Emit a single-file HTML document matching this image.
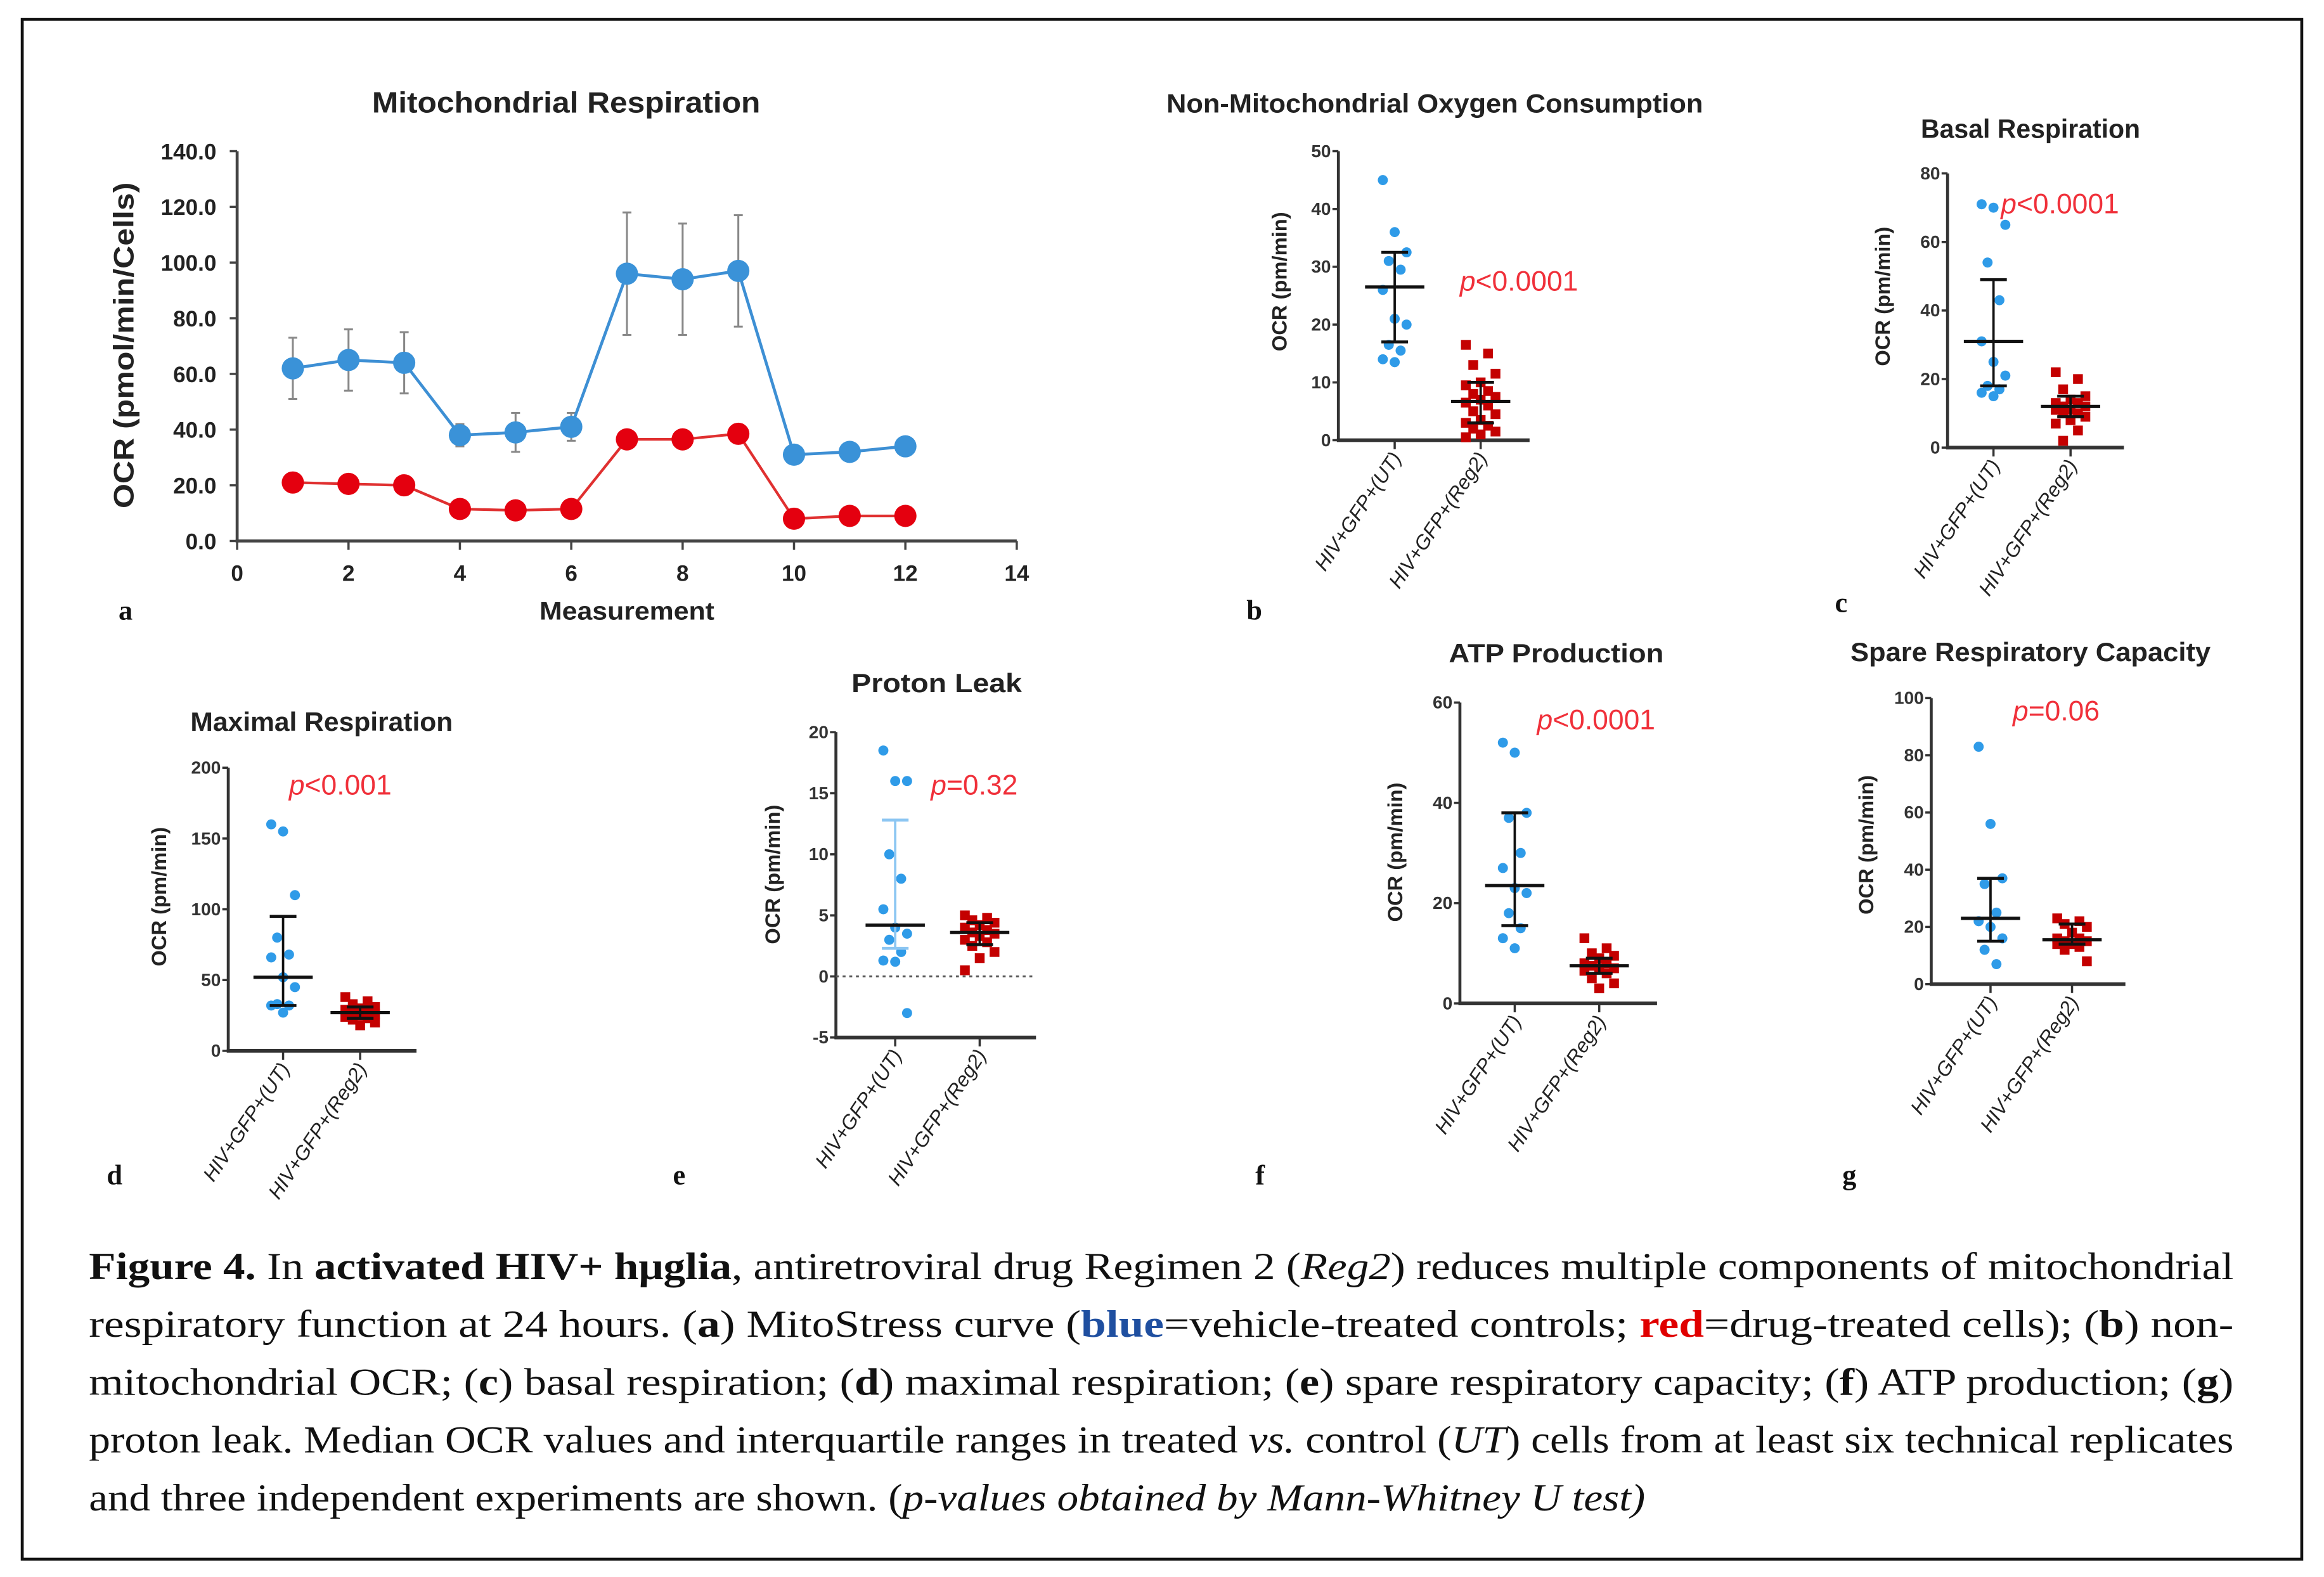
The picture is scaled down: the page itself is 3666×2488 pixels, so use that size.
<!DOCTYPE html>
<html><head><meta charset="utf-8">
<style>
html,body{margin:0;padding:0;background:#fff;}
svg{display:block;}
text{font-family:"Liberation Sans",sans-serif;}
.cap{font-family:"Liberation Serif",serif;font-size:26px;fill:#111;}
.serif{font-family:"Liberation Serif",serif;}
</style></head>
<body>
<svg id="fig" width="3666" height="2488" viewBox="0 0 1568 1064" preserveAspectRatio="none" xmlns="http://www.w3.org/2000/svg">
<rect x="15" y="13" width="1538" height="1039" fill="#fff" stroke="#111" stroke-width="2"/>
<g id="plots"></g>
<g>
<text class="cap" x="60" y="863" textLength="1447" lengthAdjust="spacingAndGlyphs"><tspan font-weight="bold">Figure 4.</tspan> In <tspan font-weight="bold">activated HIV+ hμglia</tspan>, antiretroviral drug Regimen 2 (<tspan font-style="italic">Reg2</tspan>) reduces multiple components of mitochondrial</text>
<text class="cap" x="60" y="902" textLength="1447" lengthAdjust="spacingAndGlyphs">respiratory function at 24 hours. (<tspan font-weight="bold">a</tspan>) MitoStress curve (<tspan font-weight="bold" fill="#1f4fa0">blue</tspan>=vehicle-treated controls; <tspan font-weight="bold" fill="#e00000">red</tspan>=drug-treated cells); (<tspan font-weight="bold">b</tspan>) non-</text>
<text class="cap" x="60" y="941" textLength="1447" lengthAdjust="spacingAndGlyphs">mitochondrial OCR; (<tspan font-weight="bold">c</tspan>) basal respiration; (<tspan font-weight="bold">d</tspan>) maximal respiration; (<tspan font-weight="bold">e</tspan>) spare respiratory capacity; (<tspan font-weight="bold">f</tspan>) ATP production; (<tspan font-weight="bold">g</tspan>)</text>
<text class="cap" x="60" y="980" textLength="1447" lengthAdjust="spacingAndGlyphs">proton leak. Median OCR values and interquartile ranges in treated <tspan font-style="italic">vs.</tspan> control (<tspan font-style="italic">UT</tspan>) cells from at least six technical replicates</text>
<text class="cap" x="60" y="1019" textLength="1050" lengthAdjust="spacingAndGlyphs">and three independent experiments are shown. (<tspan font-style="italic">p-values obtained by Mann-Whitney U test)</tspan></text>
</g>
</svg>
<script>
// ---- Panel a data ----
const aMeasurements = [1,2,3,4,5,6,7,8,9,10,11,12];
const aBlue = [62,65,64,38,39,41,96,94,97,31,32,34];
const aBlueErr = [11,11,11,4,7,5,22,20,20,2,2,2];
const aRed = [21,20.5,20,11.5,11,11.5,36.5,36.5,38.5,8,9,9];
const aYTicks = [0,20,40,60,80,100,120,140];
const aXTicks = [0,2,4,6,8,10,12,14];

// ---- scatter panel data ----
const bUT = [45,36,32.5,31,29.5,26,21,20,16.5,15.5,14,13.5];
const bReg = [16.5,15,13,11.5,10,9.5,8.5,8,7.5,7,6.5,6,5,4.5,3.5,3,2.5,2,1.5,1,0.5];
const bStats = [26.5,17,32.5, 6.7,3,10];
const bTicks = [0,10,20,30,40,50];
const cUT = [71,70,65,54,43,31,25,21,18,17,16,15];
const cReg = [22,20,17,15,14,13,13,12,12,11,11,10,10,9,8,7,5,2];
const cStats = [31,18,49, 12,9,15];
const cTicks = [0,20,40,60,80];
const dUT = [160,155,110,80,68,66,52,45,33,32,32,27];
const dReg = [38,35,33,31,30,29,28,27,26,25,24,23,22,20,18];
const dStats = [52,32,95, 27,23,31];
const dTicks = [0,50,100,150,200];
const eUT = [18.5,16,16,10,8,5.5,4,3.5,3,2,1.3,1.2,-3];
const eReg = [5,4.8,4.6,4.4,4.2,4,3.8,3.6,3.5,3.3,3,2.8,2.5,2,1.5,0.5];
const eStats = [4.2,2.3,12.8, 3.6,2.6,4.4];
const eTicks = [-5,0,5,10,15,20];
const fUT = [52,50,38,37,30,27,23,22,18,15,13,11];
const fReg = [13,11,10,9.5,9,8,8,7.5,7,7,6.5,6,5,4,3];
const fStats = [23.5,15.5,38, 7.5,6,9];
const fTicks = [0,20,40,60];
const gUT = [83,56,37,35,25,22,20,16,12,7];
const gReg = [23,22,21,20,18,16,16,15,15,14,14,13,12,8];
const gStats = [23,15,37, 15.5,14,21];
const gTicks = [0,20,40,60,80,100];
const categories = ["HIV+GFP+(UT)","HIV+GFP+(Reg2)"];

const NS="http://www.w3.org/2000/svg";
const root=document.getElementById('plots');
function mk(tag,attrs,parent,txt){const e=document.createElementNS(NS,tag);for(const k in attrs)e.setAttribute(k,attrs[k]);if(txt!==undefined)e.textContent=txt;(parent||root).appendChild(e);return e;}

// ---- Panel a ----
(function(){
  const g=mk('g',{});
  
  
  const X=v=>160+v*(526/14), Y=v=>365-v*(263/140);
  const t=mk('text',{x:382,y:76,'text-anchor':'middle','font-weight':'bold','font-size':20,textLength:262,lengthAdjust:'spacingAndGlyphs',fill:'#222'},g,'Mitochondrial Respiration');
  
  
  mk('line',{x1:160,y1:Y(140),x2:160,y2:366,stroke:'#444','stroke-width':2},g);
  mk('line',{x1:159,y1:365,x2:X(14),y2:365,stroke:'#444','stroke-width':2},g);
  aYTicks.forEach(v=>{
    mk('line',{x1:155,y1:Y(v),x2:160,y2:Y(v),stroke:'#444','stroke-width':1.5},g);
    const l=mk('text',{x:146,y:Y(v)+5.5,'text-anchor':'end','font-weight':'bold','font-size':15,fill:'#222'},g,v.toFixed(1));
    
    
  });
  aXTicks.forEach(v=>{
    mk('line',{x1:X(v),y1:365,x2:X(v),y2:371,stroke:'#444','stroke-width':1.5},g);
    const l=mk('text',{x:X(v),y:392,'text-anchor':'middle','font-weight':'bold','font-size':15,fill:'#222'},g,String(v));
    
    
  });
  const yt=mk('text',{x:0,y:0,transform:'translate(90,233) rotate(-90)','text-anchor':'middle','font-weight':'bold','font-size':19,fill:'#222',textLength:220,lengthAdjust:'spacingAndGlyphs'},g,'OCR (pmol/min/Cells)');
  
  
  const xt=mk('text',{x:423,y:418,'text-anchor':'middle','font-weight':'bold','font-size':17,fill:'#222',textLength:118,lengthAdjust:'spacingAndGlyphs'},g,'Measurement');
  
  
  aMeasurements.forEach((m,i)=>{
    const top=aBlue[i]+aBlueErr[i], bot=aBlue[i]-aBlueErr[i];
    mk('line',{x1:X(m),y1:Y(top),x2:X(m),y2:Y(bot),stroke:'#888','stroke-width':1.3},g);
    mk('line',{x1:X(m)-3,y1:Y(top),x2:X(m)+3,y2:Y(top),stroke:'#888','stroke-width':1.3},g);
    mk('line',{x1:X(m)-3,y1:Y(bot),x2:X(m)+3,y2:Y(bot),stroke:'#888','stroke-width':1.3},g);
  });
  const pb=aMeasurements.map((m,i)=>X(m)+','+Y(aBlue[i])).join(' ');
  const pr=aMeasurements.map((m,i)=>X(m)+','+Y(aRed[i])).join(' ');
  const lb=mk('polyline',{points:pb,fill:'none',stroke:'#3d8fd4','stroke-width':2},g);
  
  
  const lr=mk('polyline',{points:pr,fill:'none',stroke:'#e03030','stroke-width':1.8},g);
  
  
  aMeasurements.forEach((m,i)=>{
    const c=mk('circle',{cx:X(m),cy:Y(aBlue[i]),r:7.5,fill:'#3a92d8'},g);
    
    
    const r=mk('circle',{cx:X(m),cy:Y(aRed[i]),r:7.5,fill:'#e4000f'},g);
    
    
  });
  const L=mk('text',{x:80,y:418,class:'serif','font-weight':'bold','font-size':19,fill:'#111'},g,'a');
  
  
})();

// ---- scatter panels ----
function scatter(o){
  const g=mk('g',{});
  
  
  const min=o.ticks[0], max=o.ticks[o.ticks.length-1];
  const Y=v=>o.y0-(v-min)*(o.y0-o.y1)/(max-min);
  const t=mk('text',{x:o.tx,y:o.ty,'text-anchor':'middle','font-weight':'bold','font-size':18,textLength:o.tw,lengthAdjust:'spacingAndGlyphs',fill:'#222'},g,o.title);
  
  
  mk('line',{x1:o.ax,y1:o.y1,x2:o.ax,y2:o.y0+1,stroke:'#333','stroke-width':2},g);
  mk('line',{x1:o.ax-1,y1:o.y0,x2:o.axEnd,y2:o.y0,stroke:'#333','stroke-width':2.5},g);
  o.ticks.forEach(v=>{
    mk('line',{x1:o.ax-4,y1:Y(v),x2:o.ax,y2:Y(v),stroke:'#333','stroke-width':1.5},g);
    const l=mk('text',{x:o.ax-5,y:Y(v)+4,'text-anchor':'end','font-weight':'bold','font-size':12,fill:'#333'},g,String(v));
    
    
  });
  if(o.zeroLine){
    const z=mk('line',{x1:o.ax,y1:Y(0),x2:o.axEnd,y2:Y(0),stroke:'#555','stroke-width':1.3,'stroke-dasharray':'2,2.5'},g);
    
    
  }
  const yt=mk('text',{x:0,y:0,transform:`translate(${o.ytx},${o.yty}) rotate(-90)`,'text-anchor':'middle','font-weight':'bold','font-size':14,fill:'#222'},g,'OCR (pm/min)');
  
  
  [o.c1,o.c2].forEach((cx,k)=>{
    mk('line',{x1:cx,y1:o.y0,x2:cx,y2:o.y0+6,stroke:'#333','stroke-width':1.5},g);
    const l=mk('text',{x:0,y:0,transform:`translate(${cx+5},${o.y0+12}) rotate(-56)`,'text-anchor':'end','font-style':'italic','font-size':13.5,fill:'#222'},g,categories[k]);
    
    
  });
  o.ut.forEach((v,i)=>{
    const j=((i*7)%5-2)*4;
    const c=mk('circle',{cx:o.c1+j,cy:Y(v),r:3.4,fill:'#2f9be8'},g);
    
    
  });
  o.reg.forEach((v,i)=>{
    const j=((i*3)%5-2)*5;
    const s=mk('rect',{x:o.c2+j-3.3,y:Y(v)-3.3,width:6.6,height:6.6,fill:'#c40000'},g);
    
    
  });
  const st=o.stats;
  [[o.c1,st[0],st[1],st[2],o.utBarColor||'#111'],[o.c2,st[3],st[4],st[5],'#111']].forEach(([cx,med,lo,hi,col])=>{
    mk('line',{x1:cx,y1:Y(lo),x2:cx,y2:Y(hi),stroke:col,'stroke-width':1.6},g);
    mk('line',{x1:cx-9,y1:Y(lo),x2:cx+9,y2:Y(lo),stroke:col,'stroke-width':2},g);
    mk('line',{x1:cx-9,y1:Y(hi),x2:cx+9,y2:Y(hi),stroke:col,'stroke-width':2},g);
    const m=mk('line',{x1:cx-20,y1:Y(med),x2:cx+20,y2:Y(med),stroke:'#111','stroke-width':2.2},g);
    
    
  });
  const p=mk('text',{x:o.px,y:o.py,'font-size':19,fill:'#f0303a'},g);
  
  
  mk('tspan',{'font-style':'italic'},p,'p');
  mk('tspan',{},p,o.ptxt);
  const L=mk('text',{x:o.lx,y:o.ly,class:'serif','font-weight':'bold','font-size':19,fill:'#111'},g,o.id);
  
  
}
scatter({id:'b',title:'Non-Mitochondrial Oxygen Consumption',tx:968,ty:76,tw:362,ax:903,axEnd:1032,y0:297,y1:102,c1:941,c2:999,ticks:bTicks,ut:bUT,reg:bReg,stats:bStats,ytx:868,yty:190,px:985,py:196,ptxt:'<0.0001',lx:841,ly:418});
scatter({id:'c',title:'Basal Respiration',tx:1370,ty:93,tw:148,ax:1314,axEnd:1433,y0:302,y1:117,c1:1345,c2:1397,ticks:cTicks,ut:cUT,reg:cReg,stats:cStats,ytx:1275,yty:200,px:1350,py:144,ptxt:'<0.0001',lx:1238,ly:413});
scatter({id:'d',title:'Maximal Respiration',tx:217,ty:493,tw:177,ax:154,axEnd:281,y0:709,y1:518,c1:191,c2:243,ticks:dTicks,ut:dUT,reg:dReg,stats:dStats,ytx:112,yty:605,px:195,py:536,ptxt:'<0.001',lx:72,ly:799});
scatter({id:'e',title:'Proton Leak',tx:632,ty:467,tw:115,ax:564,axEnd:699,y0:700,y1:494,c1:604,c2:661,ticks:eTicks,ut:eUT,reg:eReg,stats:eStats,ytx:526,yty:590,px:628,py:536,ptxt:'=0.32',lx:454,ly:799,zeroLine:true,utBarColor:'#8cc6f2'});
scatter({id:'f',title:'ATP Production',tx:1050,ty:447,tw:145,ax:985,axEnd:1118,y0:677,y1:474,c1:1022,c2:1079,ticks:fTicks,ut:fUT,reg:fReg,stats:fStats,ytx:946,yty:575,px:1037,py:492,ptxt:'<0.0001',lx:847,ly:799});
scatter({id:'g',title:'Spare Respiratory Capacity',tx:1370,ty:446,tw:243,ax:1303,axEnd:1434,y0:664,y1:471,c1:1343,c2:1398,ticks:gTicks,ut:gUT,reg:gReg,stats:gStats,ytx:1264,yty:570,px:1358,py:486,ptxt:'=0.06',lx:1243,ly:799});
</script>
</body></html>
